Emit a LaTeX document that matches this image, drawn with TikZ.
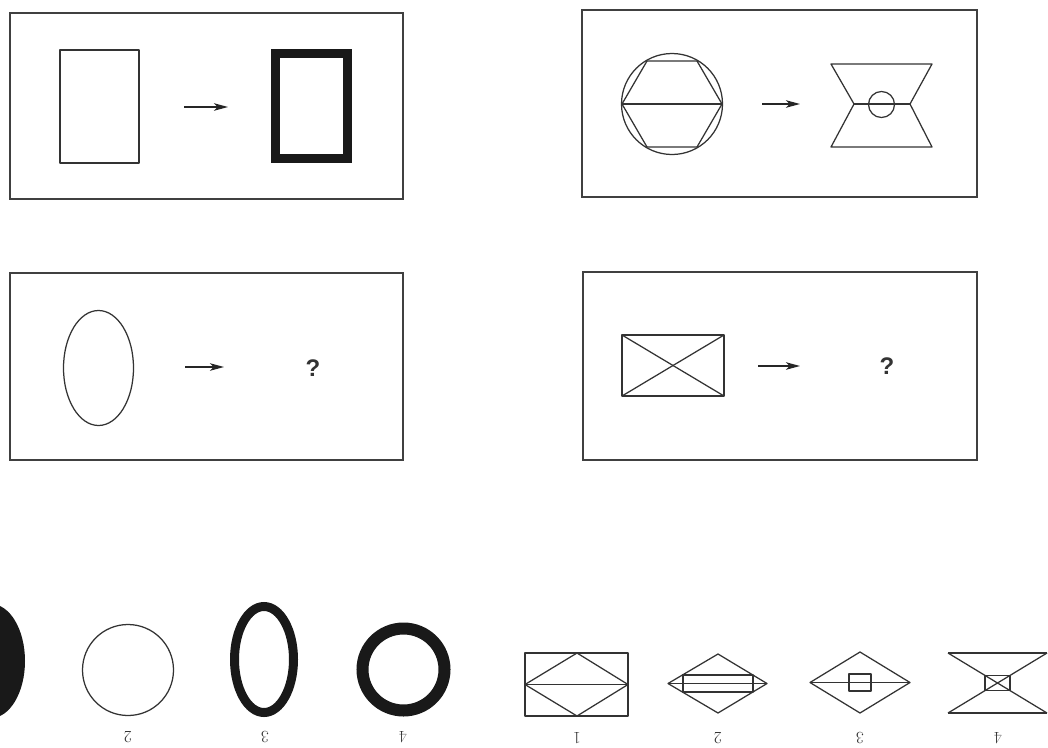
\documentclass[tikz,border=0pt]{standalone}
\usepackage{fontspec}
\newfontfamily\qfont{Liberation Sans}
\usetikzlibrary{arrows.meta}
\tikzset{
  panel/.style={draw=black!75, line width=1.4pt},
  fig/.style={draw=black!80, line width=1.25pt, line join=round},
  thick fig/.style={draw=black!90},
  arr/.style={draw=black!85, line width=1.1pt, -{Stealth[length=14pt,width=7.5pt,inset=3.5pt]}},
  qmark/.style={font=\qfont\bfseries\fontsize{24}{24}\selectfont, text=black!80},
  numlab/.style={rotate=180, font=\fontsize{17}{17}\selectfont, text=black!80}
}
\begin{document}
\begin{tikzpicture}[x=1pt,y=-1pt]
\useasboundingbox (0,0) rectangle (1048,747);
\fill[white] (0,0) rectangle (1048,747);

% ---------- Panel 1 ----------
\draw[panel] (10,13) rectangle (403,199);
\draw[fig] (60,50) rectangle (139,163);
\coordinate (a1s) at (184,107); \coordinate (a1e) at (228,107);
\draw[arr] (a1s) -- (a1e);
\draw[thick fig, line width=9pt] (275.5,53.5) rectangle (347.5,158.5);

% ---------- Panel 2 ----------
\draw[panel] (582,10) rectangle (977,197);
\draw[fig] (672,104) circle[radius=50.5pt];
\draw[fig] (622,104) -- (647,61) -- (697,61) -- (722,104) -- (697,147) -- (647,147) -- cycle;
\draw[fig] (622,104) -- (722,104);
\coordinate (a2s) at (762,104); \coordinate (a2e) at (800,104);
\draw[arr] (a2s) -- (a2e);
\draw[fig] (831,64) -- (932,64) -- (910,104) -- (932,147) -- (831,147) -- (854,104) -- cycle;
\draw[fig] (854,104) -- (910,104);
\draw[fig] (881.5,104.5) circle[radius=13pt];

% ---------- Panel 3 ----------
\draw[panel] (10,273) rectangle (403,460);
\draw[fig] (98.5,368) ellipse[x radius=35pt, y radius=57.5pt];
\coordinate (a3s) at (185,367); \coordinate (a3e) at (224,367);
\draw[arr] (a3s) -- (a3e);
\node[qmark] (q1) at (313,368) {?};

% ---------- Panel 4 ----------
\draw[panel] (583,272) rectangle (977,460);
\draw[fig] (622,335) rectangle (724,396);
\draw[fig] (622,335) -- (724,396);
\draw[fig] (622,396) -- (724,335);
\coordinate (a4s) at (758,366); \coordinate (a4e) at (800,366);
\draw[arr] (a4s) -- (a4e);
\node[qmark] (q2) at (887,366) {?};

% ---------- Options, left ----------
\fill[black!90] (-9,661) ellipse[x radius=34pt, y radius=57pt];
\draw[fig] (128,670) circle[radius=45.5pt];
\node[numlab] (l2) at (128,737) {2};
\draw[thick fig, line width=9pt] (264,659.5) ellipse[x radius=29.5pt, y radius=53pt];
\node[numlab] (l3) at (265,737) {3};
\draw[thick fig, line width=12pt] (403.5,669.5) circle[radius=41pt];
\node[numlab] (l4) at (403,737) {4};

% ---------- Options, right ----------
% 1
\draw[fig] (525,653) rectangle (628,716);
\draw[fig] (525,684.5) -- (577,653) -- (628,684.5) -- (577,716) -- cycle;
\draw[fig] (525,684.5) -- (628,684.5);
\node[numlab] (r1) at (577,738) {1};
% 2
\draw[fig] (668,683.5) -- (718,654) -- (767,683.5) -- (718,713) -- cycle;
\draw[fig] (668,683.5) -- (767,683.5);
\draw[fig] (683,675) rectangle (753,692);
\node[numlab] (r2) at (718,738) {2};
% 3
\draw[fig] (810,682.5) -- (860,652) -- (910,682.5) -- (860,713) -- cycle;
\draw[fig] (810,682.5) -- (910,682.5);
\draw[fig] (849,674) rectangle (871,691);
\node[numlab] (r3) at (860,738) {3};
% 4
\draw[fig] (948,653) -- (1047,653);
\draw[fig] (948,713) -- (1047,713);
\draw[fig] (948,653) -- (1047,713);
\draw[fig] (948,713) -- (1047,653);
\draw[fig] (985,675.5) rectangle (1010,690.5);
\node[numlab] (r4) at (998,738) {4};
\end{tikzpicture}
\end{document}
